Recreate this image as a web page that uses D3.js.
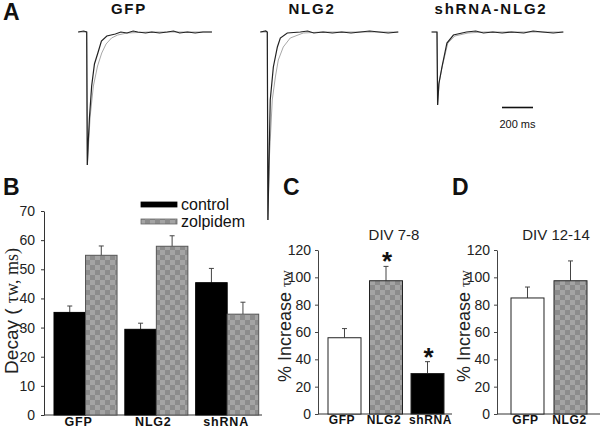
<!DOCTYPE html>
<html><head><meta charset="utf-8">
<script src="https://cdn.jsdelivr.net/npm/d3@7"></script>
<style>
html,body{margin:0;padding:0;background:#fff;}
svg{display:block;font-family:"Liberation Sans",Arial,sans-serif;}
</style></head>
<body>
<script>
// ---------- DATA ----------
// Panel A: example traces, [time from onset (ms), current (pA, arbitrary)]
const traceTitles = ["GFP", "NLG2", "shRNA-NLG2"];
const gfpControl = [[-55,0],[-20,1],[0,0],[4,-133],[10,-110],[18,-85],[32,-54],[50,-32],[72,-21],[95,-9],[130,-4],[185,-2],[220,0],[260,-1],[300,1],[330,0],[380,-1],[420,0],[470,-1],[520,0],[560,1],[600,-1],[650,0],[700,-1],[750,0],[808,0]];
const gfpZolpidem = [[-55,0],[0,0],[4,-133],[12,-112],[22,-85],[43,-54],[70,-34],[97,-21],[125,-12],[160,-6],[200,-3],[260,-1],[400,0],[808,0]];
const nlg2Control = [[-45,0],[-10,1],[0,0],[4,-188],[10,-140],[19,-68],[39,-35],[65,-15],[84,-6],[129,-1],[213,0],[260,1],[300,-1],[360,0],[420,-1],[480,0],[540,-1],[600,0],[660,1],[720,0],[780,-1],[845,0]];
const nlg2Zolpidem = [[-45,0],[0,0],[4,-188],[12,-130],[32,-68],[52,-45],[71,-28],[103,-15],[148,-6],[232,-1],[350,0],[845,0]];
const shControl = [[-35,0],[0,0],[4,-73],[12,-52],[32,-35],[64,-11],[106,-3],[190,0],[250,1],[300,-1],[360,0],[420,-1],[480,0],[560,-1],[620,1],[680,0],[750,-1],[815,0]];
const shZolpidem = [[-35,0],[0,0],[4,-73],[14,-50],[36,-33],[70,-11],[115,-4],[200,-1],[300,0],[815,0]];
const scaleBarMs = 200;

// Panel B: decay time constant (ms)
const groupsB = ["GFP", "NLG2", "shRNA"];
const controlMean = [35.2, 29.4, 45.4];
const controlSEM = [2.2, 2.1, 4.9];
const zolpidemMean = [54.8, 57.9, 34.6];
const zolpidemSEM = [3.2, 3.6, 4.1];
const ticksB = [0, 10, 20, 30, 40, 50, 60, 70];

// Panel C: % increase, DIV 7-8
const groupsC = ["GFP", "NLG2", "shRNA"];
const increaseC = [55.8, 97.5, 29.6];
const semC = [6.7, 10.5, 8.7];
const starC = [false, true, true];
// Panel D: % increase, DIV 12-14
const groupsD = ["GFP", "NLG2"];
const increaseD = [84.9, 97.5];
const semD = [8, 14.5];
const ticksCD = [0, 20, 40, 60, 80, 100, 120];

// ---------- DRAW ----------
const W = 601, H = 432;
const svg = d3.select("body").append("svg").attr("width", W).attr("height", H);
const defs = svg.append("defs");
const pat = defs.append("pattern").attr("id","checker").attr("patternUnits","userSpaceOnUse")
  .attr("width",10).attr("height",10);
pat.append("rect").attr("width",10).attr("height",10).attr("fill","#8c8c8c");
pat.append("rect").attr("width",5).attr("height",5).attr("fill","#a4a4a4");
pat.append("rect").attr("x",5).attr("y",5).attr("width",5).attr("height",5).attr("fill","#a4a4a4");

function panelLetter(t, x, y){
  svg.append("text").attr("x",x).attr("y",y).text(t)
    .attr("font-size",23).attr("font-weight","bold").attr("fill","#111");
}
panelLetter("A", 3, 20);
panelLetter("B", 3, 195);
panelLetter("C", 283, 195);
panelLetter("D", 452, 195);

// ----- Panel A -----
const tScale = d3.scaleLinear().domain([0, 200]).range([0, 31]);
const iScale = d3.scaleLinear().domain([0, -188]).range([32, 220]);
const traceOnsets = [86.7, 267.3, 437];
const traceTitleX = [129, 312, 491];
const traceSets = [[gfpControl, gfpZolpidem],[nlg2Control, nlg2Zolpidem],[shControl, shZolpidem]];
const line = d3.line().x(d => tScale(d[0])).y(d => iScale(d[1]));
traceSets.forEach((set, k) => {
  const g = svg.append("g").attr("transform", `translate(${traceOnsets[k]},0)`);
  g.append("path").attr("d", line(set[1])).attr("fill","none").attr("stroke","#a8a8a8").attr("stroke-width",1);
  g.append("path").attr("d", line(set[0])).attr("fill","none").attr("stroke","#222").attr("stroke-width",1.2);
  svg.append("text").attr("x", traceTitleX[k]).attr("y", 14).attr("text-anchor","middle")
    .attr("font-size",15).attr("font-weight","bold").attr("letter-spacing",1.8).attr("fill","#111").text(traceTitles[k]);
});
const sbX = 502, sbY = 107.5;
svg.append("line").attr("x1", sbX).attr("x2", sbX + tScale(scaleBarMs)).attr("y1", sbY).attr("y2", sbY)
  .attr("stroke","#111").attr("stroke-width",1.6);
svg.append("text").attr("x", sbX + tScale(scaleBarMs)/2).attr("y", 128).attr("text-anchor","middle")
  .attr("font-size",11).attr("fill","#111").text(scaleBarMs + " ms");

// ----- Panel B -----
const yB = d3.scaleLinear().domain([0, 70]).range([415, 211]);
const xB = d3.scaleBand().domain(groupsB).range([54, 258.7]).paddingInner(0.11).paddingOuter(0);
const xSub = d3.scaleBand().domain(["control","zolpidem"]).range([0, xB.bandwidth()]);
const gB = svg.append("g");
const axB = gB.append("g").attr("transform","translate(44,0)")
  .call(d3.axisLeft(yB).tickValues(ticksB).tickSize(3).tickPadding(6).tickSizeOuter(0));
axB.selectAll("text").attr("font-size",14).attr("fill","#222").attr("font-family","Liberation Sans, Arial");
axB.select(".domain").attr("stroke","#333");
axB.selectAll(".tick line").attr("stroke","#333");
gB.append("line").attr("x1",44).attr("x2",262).attr("y1",415).attr("y2",415).attr("stroke","#333");

const seriesB = [
  {key:"control", mean: controlMean, sem: controlSEM, fill:"#000"},
  {key:"zolpidem", mean: zolpidemMean, sem: zolpidemSEM, fill:"url(#checker)"}
];
function errBar(g, cx, yTop, yErr){
  g.append("line").attr("x1",cx).attr("x2",cx).attr("y1",yTop).attr("y2",yErr).attr("stroke","#444").attr("stroke-width",1);
  g.append("line").attr("x1",cx-2.5).attr("x2",cx+2.5).attr("y1",yErr).attr("y2",yErr).attr("stroke","#444").attr("stroke-width",1);
}
seriesB.forEach(s => {
  groupsB.forEach((gname, i) => {
    const x0 = xB(gname) + xSub(s.key);
    const w = xSub.bandwidth();
    errBar(gB, x0 + w/2, yB(s.mean[i]), yB(s.mean[i] + s.sem[i]));
    gB.append("rect").attr("x", x0).attr("y", yB(s.mean[i])).attr("width", w)
      .attr("height", yB(0) - yB(s.mean[i])).attr("fill", s.fill)
      .attr("stroke", s.key === "control" ? "#000" : "#555").attr("stroke-width",1);
  });
});
const labelShiftB = [-7, -3, -1];
groupsB.forEach((gname, i) => {
  gB.append("text").attr("x", xB(gname) + xB.bandwidth()/2 + labelShiftB[i]).attr("y", 426).attr("text-anchor","middle")
    .attr("font-size",12.5).attr("font-weight","bold").attr("letter-spacing",0.8).attr("fill","#111").text(gname);
});
// legend
const legY = [204.5, 221.5];
seriesB.forEach((s, k) => {
  gB.append("rect").attr("x",141).attr("y",legY[k]-2.5).attr("width",36).attr("height",5)
    .attr("fill", s.fill).attr("stroke", k ? "#666" : "#000").attr("stroke-width",0.8);
  gB.append("text").attr("x",181).attr("y",legY[k]+5.5).attr("font-size",16).attr("fill","#111").text(s.key);
});
// y label
const ylB = gB.append("text").attr("transform","translate(17.5,311) rotate(-90)").attr("text-anchor","middle")
  .attr("font-size",19).attr("fill","#222");
ylB.append("tspan").text("Decay ( ");
ylB.append("tspan").attr("font-family","Liberation Serif, Times New Roman, serif").attr("font-size",18).text("τw, ms)");

// ----- Panels C & D -----
function percentPanel(axisX, xRange, pad, groups, vals, sems, stars, labelShift, title, titleX, xEnd){
  const y = d3.scaleLinear().domain([0,120]).range([414, 250]);
  const x = d3.scaleBand().domain(groups).range(xRange).paddingInner(pad).paddingOuter(0);
  const g = svg.append("g");
  const ax = g.append("g").attr("transform",`translate(${axisX},0)`)
    .call(d3.axisLeft(y).tickValues(ticksCD).tickSize(3).tickPadding(4).tickSizeOuter(0));
  ax.selectAll("text").attr("font-size",14).attr("fill","#222").attr("font-family","Liberation Sans, Arial");
  ax.select(".domain").attr("stroke","#444");
  ax.selectAll(".tick line").attr("stroke","#444");
  g.append("line").attr("x1",axisX).attr("x2",xEnd).attr("y1",414).attr("y2",414).attr("stroke","#333");
  const fills = {GFP:"#fff", NLG2:"url(#checker)", shRNA:"#000"};
  groups.forEach((gname,i) => {
    const cx = x(gname) + x.bandwidth()/2;
    errBar(g, cx, y(vals[i]), y(vals[i] + sems[i]));
    g.append("rect").attr("x", x(gname)).attr("y", y(vals[i])).attr("width", x.bandwidth())
      .attr("height", y(0) - y(vals[i])).attr("fill", fills[gname]).attr("stroke","#222").attr("stroke-width",1);
    if (stars[i]) g.append("text").attr("x", cx + 1).attr("y", y(vals[i] + sems[i]) + 4)
      .attr("text-anchor","middle").attr("font-size",26).attr("font-weight","bold").attr("fill","#111").text("*");
    g.append("text").attr("x", cx + labelShift[i]).attr("y", 424).attr("text-anchor","middle")
      .attr("font-size",12).attr("font-weight","bold").attr("letter-spacing",0.6).attr("fill","#111").text(gname);
  });
  g.append("text").attr("x", titleX).attr("y", 240).attr("text-anchor","middle")
    .attr("font-size",15).attr("fill","#222").text(title);
  const yl = g.append("text").attr("transform",`translate(${axisX-27},326) rotate(-90)`).attr("text-anchor","middle")
    .attr("font-size",18).attr("fill","#222");
  yl.append("tspan").text("% Increase ");
  yl.append("tspan").attr("font-family","Liberation Serif, Times New Roman, serif").attr("font-size",15).text("τw");
}
percentPanel(318, [328, 444], 0.205, groupsC, increaseC, semC, starC, [-2.5, -2, 3], "DIV 7-8", 394, 452);
percentPanel(497, [511, 587], 0.233, groupsD, increaseD, semD, [false,false], [-2, -1], "DIV 12-14", 556, 600);
</script>
</body></html>
